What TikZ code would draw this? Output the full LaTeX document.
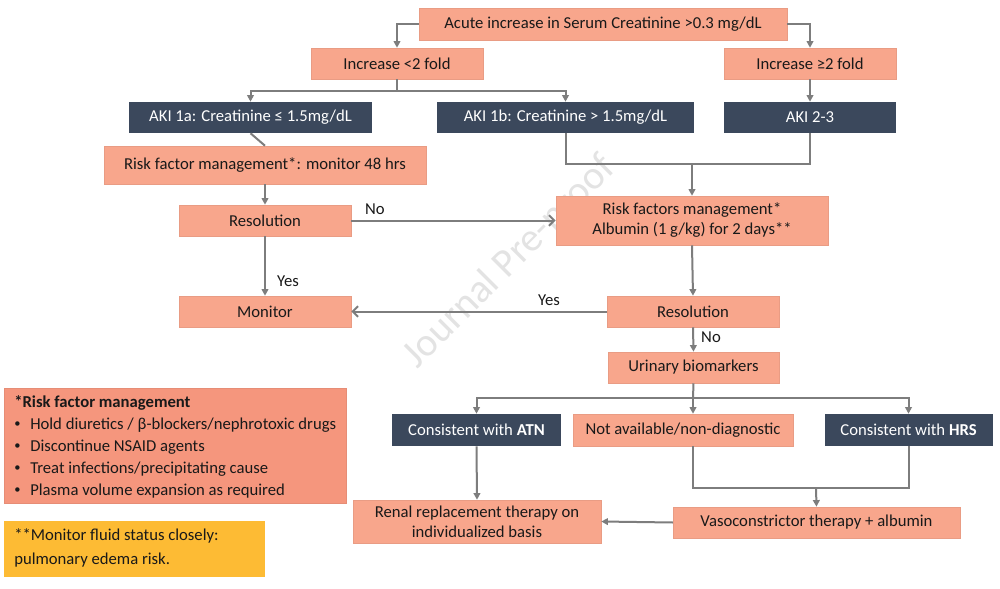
\documentclass[tikz,border=0pt]{standalone}
\usepackage{fontspec}
\setmainfont{Carlito}
\usetikzlibrary{arrows.meta}

\definecolor{salmon}{RGB}{248,166,140}
\definecolor{salmondeep}{RGB}{245,150,125}
\definecolor{slatebox}{RGB}{59,72,92}
\definecolor{ambernote}{RGB}{253,187,52}
\definecolor{linkgray}{RGB}{125,125,125}

\newcommand{\smallbul}{\makebox[12pt][l]{\raisebox{0.2ex}{\scalebox{0.75}{\textbullet}}}}

\tikzset{
	salbox/.style={draw=salmon!85!black!40!salmon, line width=0.4pt, fill=salmon, inner sep=0pt, align=center, text=black!90, font=\fontsize{12.5}{15}\selectfont},
	darkbox/.style={fill=slatebox, inner sep=0pt, align=center, text=white, font=\fontsize{12.5}{15}\selectfont},
	line/.style={draw=linkgray, line width=1.5pt},
	conn/.style={line, -{Triangle[length=5pt,width=5pt]}},
	barb/.style={line, -{Straight Barb[length=4pt,width=8pt]}},
	lbl/.style={font=\fontsize{12.5}{15}\selectfont, text=black!90}}

\begin{document}
\begin{tikzpicture}[x=0.75pt,y=0.75pt,yscale=-1,xscale=1]
	\useasboundingbox (0,0) rectangle (1000,589);
	\fill[white] (0,0) rectangle (1000,589);

	% Watermark
	\node (mark) [rotate=45, text=black!11, font=\fontsize{30}{34}\selectfont] at (510,262) {Journal Pre-proof};

	% Top row
	\node (acute) [salbox, minimum width=276pt, minimum height=24pt] at (603,24) {Acute increase in Serum Creatinine >0.3 mg/dL};
	\node (incA) [salbox, minimum width=129pt, minimum height=23.25pt] at (397,63.5) {Increase <2 fold};
	\node (incB) [salbox, minimum width=129pt, minimum height=23.25pt] at (810,63.5) {Increase ≥2 fold};

	% AKI stages
	\node (akiA) [darkbox, minimum width=182pt, minimum height=23.25pt] at (250.5,117.5) {AKI 1a: Creatinine ≤ 1.5mg/dL};
	\node (akiB) [darkbox, minimum width=193pt, minimum height=23.25pt] at (565.5,117.5) {AKI 1b: Creatinine > 1.5mg/dL};
	\node (akiC) [darkbox, minimum width=129pt, minimum height=23.25pt] at (810,117.5) {AKI 2-3};

	% Left branch
	\node (rfm) [salbox, minimum width=241.5pt, minimum height=28.5pt] at (265,165) {Risk factor management*: monitor 48 hrs};
	\node (resA) [salbox, minimum width=129pt, minimum height=23.25pt] at (265,220.5) {Resolution};
	\node (monitor) [salbox, minimum width=129pt, minimum height=23.25pt] at (265,311.5) {Monitor};

	% Right branch
	\node (rfalb) [salbox, minimum width=204pt, minimum height=36.75pt] at (692,220.5) {Risk factors management*\\Albumin (1 g/kg) for 2 days**};
	\node (resB) [salbox, minimum width=129pt, minimum height=23.25pt] at (693,311.5) {Resolution};
	\node (urine) [salbox, minimum width=128pt, minimum height=23.25pt] at (693.5,367.5) {Urinary biomarkers};

	% Biomarker outcomes
	\node (atn) [darkbox, minimum width=127pt, minimum height=24pt] at (476.5,430) {Consistent with \textbf{ATN}};
	\node (nadx) [salbox, minimum width=165pt, minimum height=24pt] at (683,430) {Not available/non-diagnostic};
	\node (hrs) [darkbox, minimum width=126pt, minimum height=24pt] at (908.5,430) {Consistent with \textbf{HRS}};
	\node (rrt) [salbox, minimum width=186pt, minimum height=32.25pt] at (477,521.5) {Renal replacement therapy on\\individualized basis};
	\node (vaso) [salbox, minimum width=215pt, minimum height=23.25pt] at (816.5,522.5) {Vasoconstrictor therapy + albumin};

	% Notes
	\node (notes) [fill=salmondeep, draw=salmondeep!80!black!30!salmondeep, minimum width=256.5pt, minimum height=86.25pt, inner sep=0pt] at (175,445.5) {};
	\node (notestxt) [anchor=north west, align=left, inner sep=0pt, text=black!90, font=\fontsize{12.5}{16.5}\selectfont] at (14,395) {\textbf{*Risk factor management}\\
		\smallbul Hold diuretics / β-blockers/nephrotoxic drugs\\
		\smallbul Discontinue NSAID agents\\
		\smallbul Treat infections/precipitating cause\\
		\smallbul Plasma volume expansion as required};
	\node (fluid) [fill=ambernote, minimum width=195.75pt, minimum height=42pt, inner sep=0pt] at (134.5,549) {};
	\node (fluidtxt) [anchor=north west, align=left, inner sep=0pt, text=black!90, font=\fontsize{12.5}{18}\selectfont] at (14,528) {**Monitor fluid status closely:\\pulmonary edema risk.};

	% Junctions
	\coordinate (splitA) at (397,91);
	\coordinate (mergeA) at (692,164);
	\coordinate (splitB) at (693,398);
	\coordinate (mergeB) at (816,488);

	% Connectors
	\draw[conn] (acute.west) -| (incA.north);
	\draw[conn] (acute.east) -| (incB.north);
	\draw[line] (incA.south) -- (splitA);
	\draw[conn] (splitA) -| (akiA.north);
	\draw[conn] (splitA) -| (akiB.north);
	\draw[conn] (incB.south) -- (akiC.north);
	\draw[line] (akiA.south) -- (rfm.north);
	\draw[conn] (rfm.south) -- (resA.north);
	\draw[barb] (resA.east) -- (rfalb.west);
	\draw[line] (akiB.south) |- (mergeA) -| (akiC.south);
	\draw[conn] (mergeA) -- (rfalb.north);
	\draw[conn] (resA.south) -- (monitor.north);
	\draw[conn] (rfalb.south) -- (resB.north);
	\draw[barb] (resB.west) -- (monitor.east);
	\draw[conn] (resB.south) -- (urine.north);
	\draw[line] (urine.south) -- (splitB);
	\draw[conn] (splitB) -| (atn.north);
	\draw[conn] (splitB) -- (splitB |- nadx.north);
	\draw[conn] (splitB) -| (hrs.north);
	\draw[conn] (atn.south) -- (rrt.north);
	\draw[line] (splitB |- nadx.south) |- (mergeB) -| (hrs.south);
	\draw[conn] (mergeB) -- (vaso.north);
	\draw[conn] (vaso.west) -- (rrt.east);

	% Text Node
	\node (noA) [lbl] at (375,209) {No};
	% Text Node
	\node (yesA) [lbl] at (288,281) {Yes};
	% Text Node
	\node (yesB) [lbl] at (549,300) {Yes};
	% Text Node
	\node (noB) [lbl] at (711,337) {No};
\end{tikzpicture}
\end{document}
